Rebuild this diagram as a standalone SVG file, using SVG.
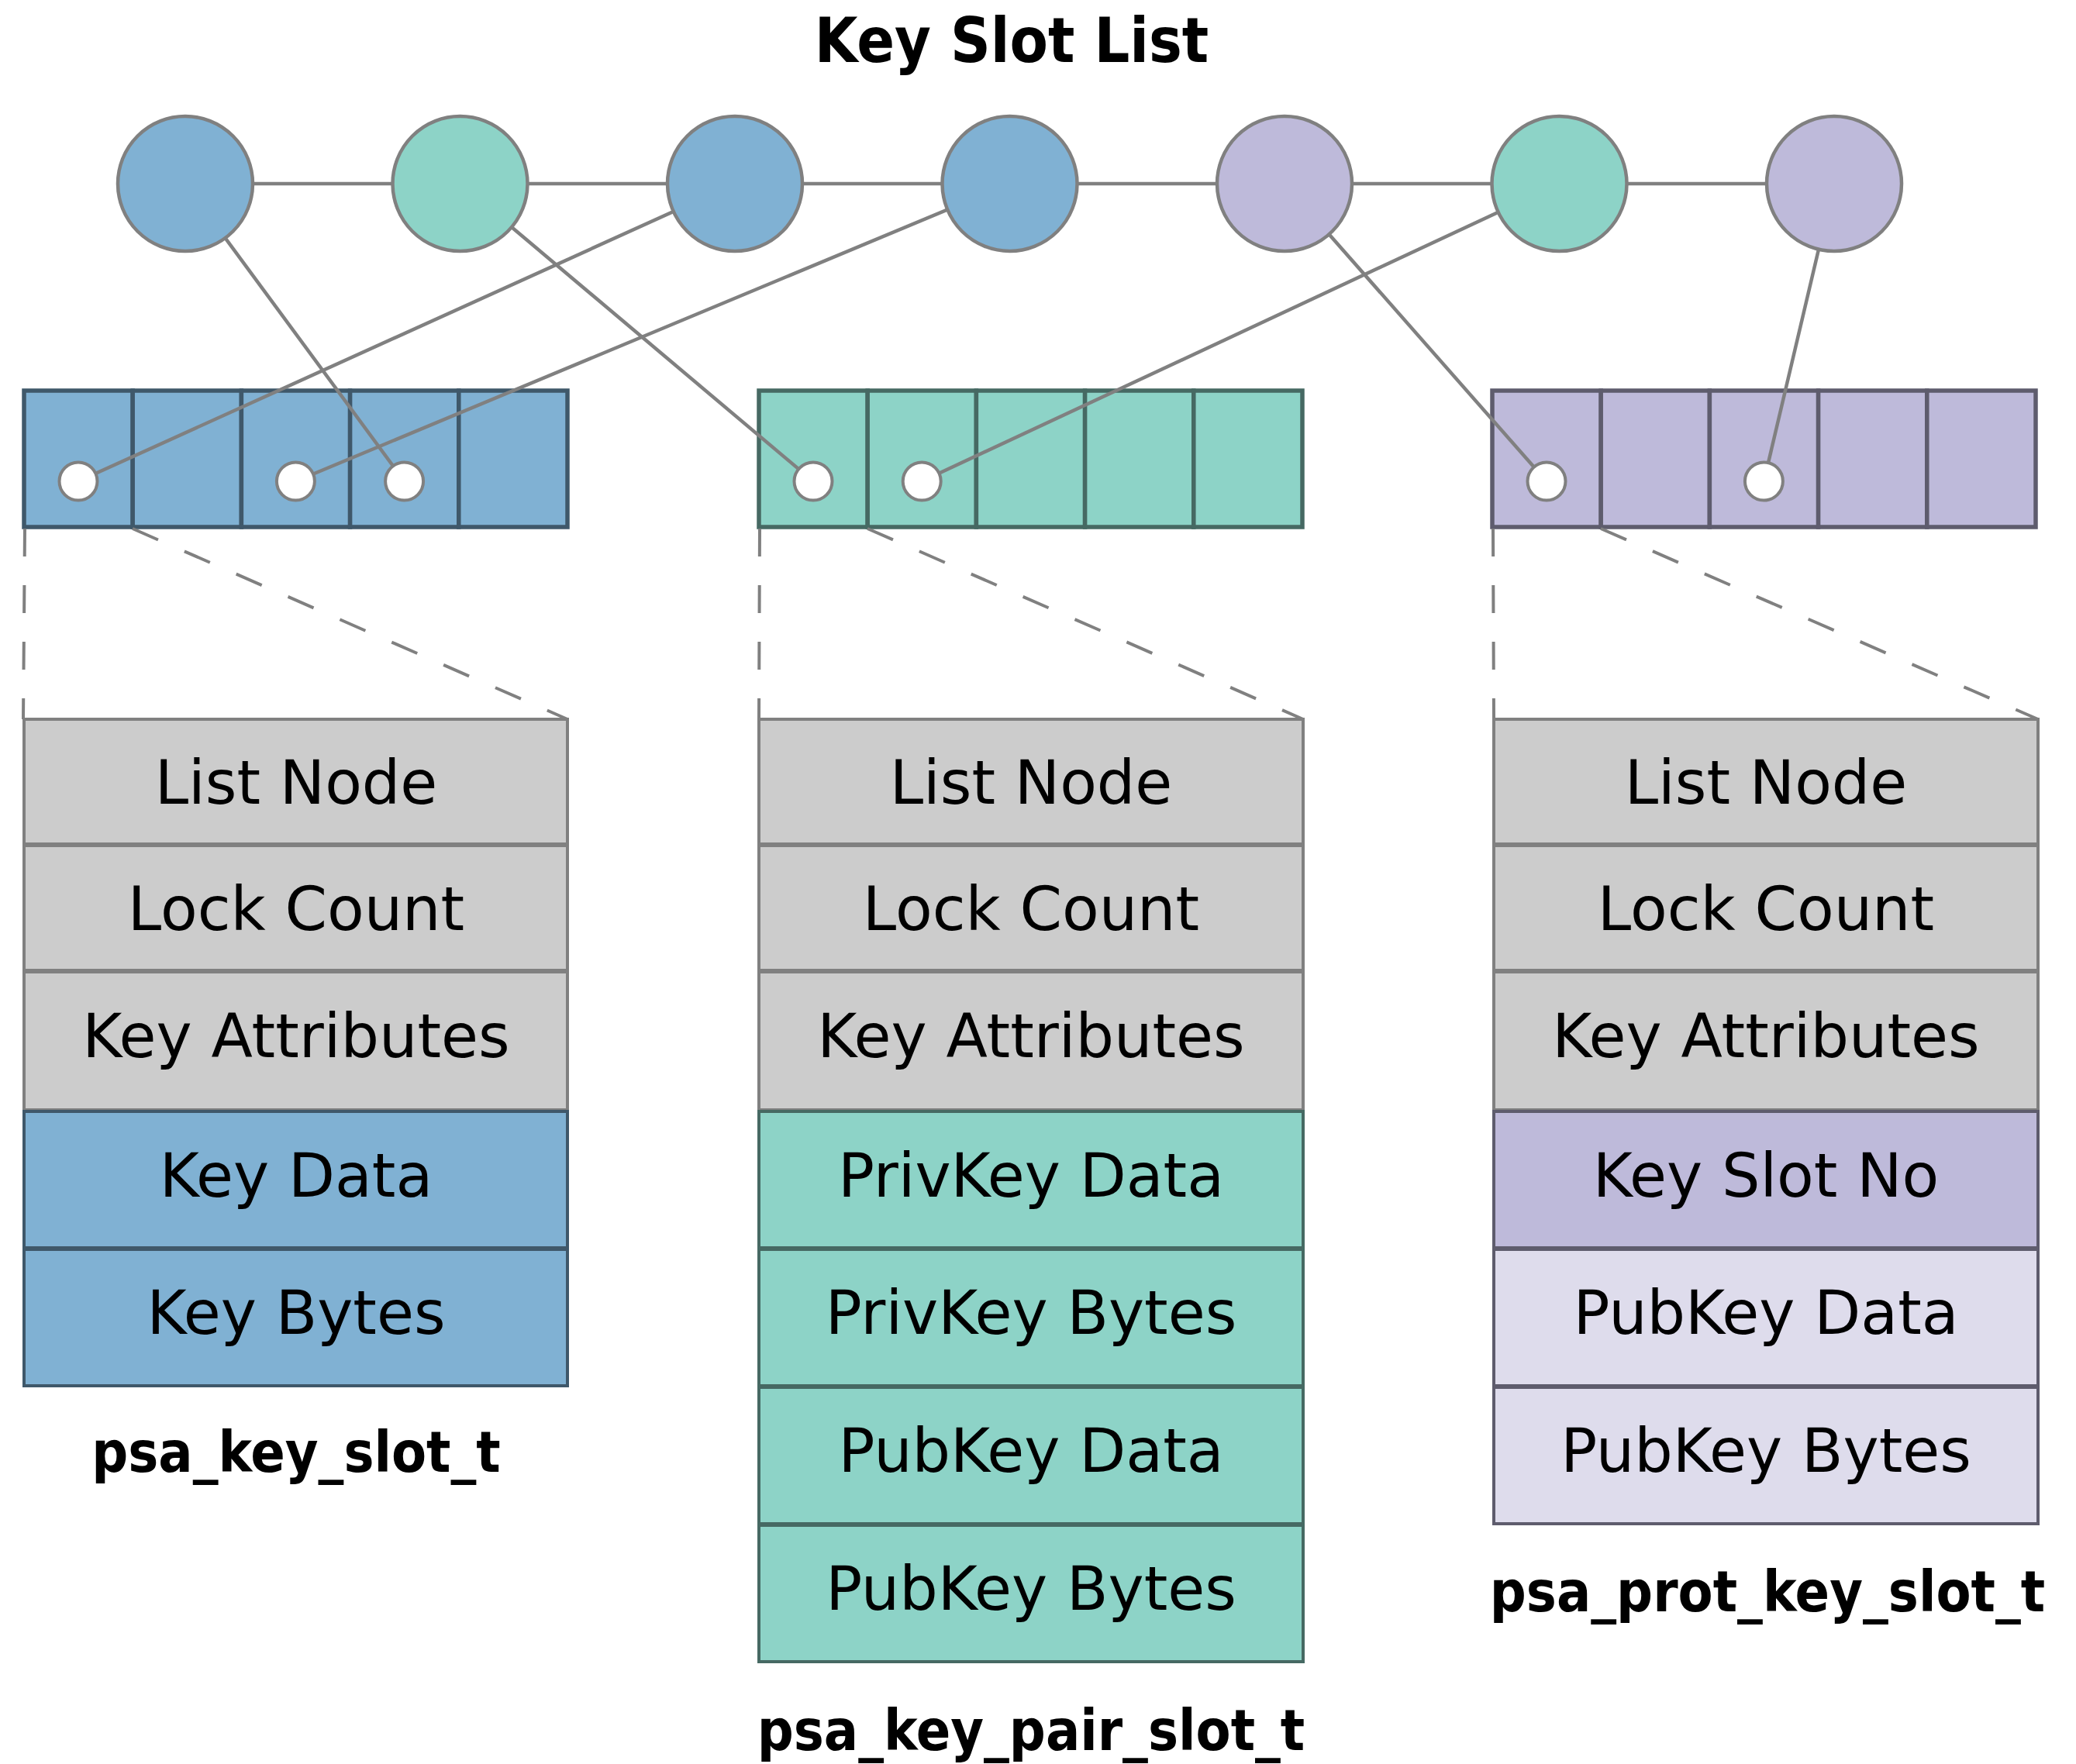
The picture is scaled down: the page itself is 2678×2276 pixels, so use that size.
<svg xmlns="http://www.w3.org/2000/svg" width="2678" height="2276" viewBox="0 0 2678 2276">
  <style>
    .bg { fill: #ffffff; }
    .title { font-family: "DejaVu Sans Condensed", "DejaVu Sans", "Liberation Sans", sans-serif; font-weight: bold; font-size: 80px; fill: #000; text-anchor: middle; }
    .label { font-family: "DejaVu Sans Condensed", "DejaVu Sans", "Liberation Sans", sans-serif; font-weight: bold; font-size: 73px; fill: #000; text-anchor: middle; }
    .field { font-family: "DejaVu Sans", "Liberation Sans", sans-serif; font-size: 78px; fill: #000; text-anchor: middle; }
    .link { stroke: #808080; stroke-width: 4.5; fill: none; }
    .dash { stroke: #808080; stroke-width: 4; fill: none; stroke-dasharray: 36 37; }
    .node { stroke: #808080; stroke-width: 4.5; }
    .ptr { fill: #ffffff; stroke: #808080; stroke-width: 4; }
    .blue { fill: #80b1d3; }
    .teal { fill: #8dd3c7; }
    .purple { fill: #bebada; }
    .cell-blue { fill: #80b1d3; stroke: #3f586a; stroke-width: 5.5; }
    .cell-teal { fill: #8dd3c7; stroke: #466963; stroke-width: 5.5; }
    .cell-purple { fill: #bebada; stroke: #5e5c6d; stroke-width: 5.5; }
    .row-gray { fill: #cccccc; stroke: #808080; stroke-width: 4; }
    .row-blue { fill: #80b1d3; stroke: #3f586a; stroke-width: 4; }
    .row-teal { fill: #8dd3c7; stroke: #466963; stroke-width: 4; }
    .row-purple { fill: #bebada; stroke: #5e5c6d; stroke-width: 4; }
    .row-lilac { fill: #dedcec; stroke: #5e5c6d; stroke-width: 4; }
  </style>

  <rect class="bg" x="0" y="0" width="2678" height="2276"/>

  <text class="title" x="1305" y="80">Key Slot List</text>

  <!-- slot arrays -->
  <g id="array-key-slot">
    <rect class="cell-blue" x="31" y="504" width="140.2" height="176"/>
    <rect class="cell-blue" x="171.2" y="504" width="140.2" height="176"/>
    <rect class="cell-blue" x="311.4" y="504" width="140.2" height="176"/>
    <rect class="cell-blue" x="451.6" y="504" width="140.2" height="176"/>
    <rect class="cell-blue" x="591.8" y="504" width="140.2" height="176"/>
  </g>
  <g id="array-key-pair-slot">
    <rect class="cell-teal" x="979" y="504" width="140.2" height="176"/>
    <rect class="cell-teal" x="1119.2" y="504" width="140.2" height="176"/>
    <rect class="cell-teal" x="1259.4" y="504" width="140.2" height="176"/>
    <rect class="cell-teal" x="1399.6" y="504" width="140.2" height="176"/>
    <rect class="cell-teal" x="1539.8" y="504" width="140.2" height="176"/>
  </g>
  <g id="array-prot-key-slot">
    <rect class="cell-purple" x="1925" y="504" width="140.2" height="176"/>
    <rect class="cell-purple" x="2065.2" y="504" width="140.2" height="176"/>
    <rect class="cell-purple" x="2205.4" y="504" width="140.2" height="176"/>
    <rect class="cell-purple" x="2345.6" y="504" width="140.2" height="176"/>
    <rect class="cell-purple" x="2485.8" y="504" width="140.2" height="176"/>
  </g>

  <!-- connectors: list chain, list-to-slot pointers, zoom guides -->
  <g id="connectors">
    <line class="link" x1="239" y1="237" x2="2366" y2="237"/>
    <line class="link" x1="239" y1="237" x2="521.6" y2="621"/>
    <line class="link" x1="593.5" y1="237" x2="1049" y2="621"/>
    <line class="link" x1="948" y1="237" x2="101" y2="621"/>
    <line class="link" x1="1302.5" y1="237" x2="381.4" y2="621"/>
    <line class="link" x1="1657" y1="237" x2="1995" y2="621"/>
    <line class="link" x1="2011.5" y1="237" x2="1189.2" y2="621"/>
    <line class="link" x1="2366" y1="237" x2="2275.4" y2="621"/>

    <line class="dash" x1="32" y1="682" x2="30" y2="928"/>
    <line class="dash" x1="171" y1="682" x2="732" y2="928"/>
    <line class="dash" x1="980" y1="682" x2="979" y2="928"/>
    <line class="dash" x1="1119" y1="682" x2="1681" y2="928"/>
    <line class="dash" x1="1926" y1="682" x2="1927" y2="928"/>
    <line class="dash" x1="2065" y1="682" x2="2629" y2="928"/>
  </g>

  <!-- list nodes -->
  <g id="list-node-1"><circle class="node blue" cx="239" cy="237" r="87"/></g>
  <g id="list-node-2"><circle class="node teal" cx="593.5" cy="237" r="87"/></g>
  <g id="list-node-3"><circle class="node blue" cx="948" cy="237" r="87"/></g>
  <g id="list-node-4"><circle class="node blue" cx="1302.5" cy="237" r="87"/></g>
  <g id="list-node-5"><circle class="node purple" cx="1657" cy="237" r="87"/></g>
  <g id="list-node-6"><circle class="node teal" cx="2011.5" cy="237" r="87"/></g>
  <g id="list-node-7"><circle class="node purple" cx="2366" cy="237" r="87"/></g>

  <!-- occupied slot markers -->
  <g id="slot-markers">
    <circle class="ptr" cx="101" cy="621" r="24.5"/>
    <circle class="ptr" cx="381.4" cy="621" r="24.5"/>
    <circle class="ptr" cx="521.6" cy="621" r="24.5"/>
    <circle class="ptr" cx="1049" cy="621" r="24.5"/>
    <circle class="ptr" cx="1189.2" cy="621" r="24.5"/>
    <circle class="ptr" cx="1995" cy="621" r="24.5"/>
    <circle class="ptr" cx="2275.4" cy="621" r="24.5"/>
  </g>

  <!-- psa_key_slot_t layout -->
  <g id="struct-key-slot">
    <rect class="row-gray" x="31" y="928" width="701" height="161"/>
    <text class="field" x="382" y="1037">List Node</text>
    <rect class="row-gray" x="31" y="1091" width="701" height="161"/>
    <text class="field" x="382" y="1200">Lock Count</text>
    <rect class="row-gray" x="31" y="1254" width="701" height="178"/>
    <text class="field" x="382" y="1364">Key Attributes</text>
    <rect class="row-blue" x="31" y="1434" width="701" height="176"/>
    <text class="field" x="382" y="1544">Key Data</text>
    <rect class="row-blue" x="31" y="1612" width="701" height="176"/>
    <text class="field" x="382" y="1721">Key Bytes</text>
    <text class="label" x="382" y="1899">psa_key_slot_t</text>
  </g>

  <!-- psa_key_pair_slot_t layout -->
  <g id="struct-key-pair-slot">
    <rect class="row-gray" x="979" y="928" width="702" height="161"/>
    <text class="field" x="1330" y="1037">List Node</text>
    <rect class="row-gray" x="979" y="1091" width="702" height="161"/>
    <text class="field" x="1330" y="1200">Lock Count</text>
    <rect class="row-gray" x="979" y="1254" width="702" height="178"/>
    <text class="field" x="1330" y="1364">Key Attributes</text>
    <rect class="row-teal" x="979" y="1434" width="702" height="176"/>
    <text class="field" x="1330" y="1544">PrivKey Data</text>
    <rect class="row-teal" x="979" y="1612" width="702" height="176"/>
    <text class="field" x="1330" y="1721">PrivKey Bytes</text>
    <rect class="row-teal" x="979" y="1790" width="702" height="176"/>
    <text class="field" x="1330" y="1899">PubKey Data</text>
    <rect class="row-teal" x="979" y="1968" width="702" height="176"/>
    <text class="field" x="1330" y="2077">PubKey Bytes</text>
    <text class="label" x="1330" y="2258">psa_key_pair_slot_t</text>
  </g>

  <!-- psa_prot_key_slot_t layout -->
  <g id="struct-prot-key-slot">
    <rect class="row-gray" x="1927" y="928" width="702" height="161"/>
    <text class="field" x="2278" y="1037">List Node</text>
    <rect class="row-gray" x="1927" y="1091" width="702" height="161"/>
    <text class="field" x="2278" y="1200">Lock Count</text>
    <rect class="row-gray" x="1927" y="1254" width="702" height="178"/>
    <text class="field" x="2278" y="1364">Key Attributes</text>
    <rect class="row-purple" x="1927" y="1434" width="702" height="176"/>
    <text class="field" x="2278" y="1544">Key Slot No</text>
    <rect class="row-lilac" x="1927" y="1612" width="702" height="176"/>
    <text class="field" x="2278" y="1721">PubKey Data</text>
    <rect class="row-lilac" x="1927" y="1790" width="702" height="176"/>
    <text class="field" x="2278" y="1899">PubKey Bytes</text>
    <text class="label" x="2280" y="2079">psa_prot_key_slot_t</text>
  </g>
</svg>
